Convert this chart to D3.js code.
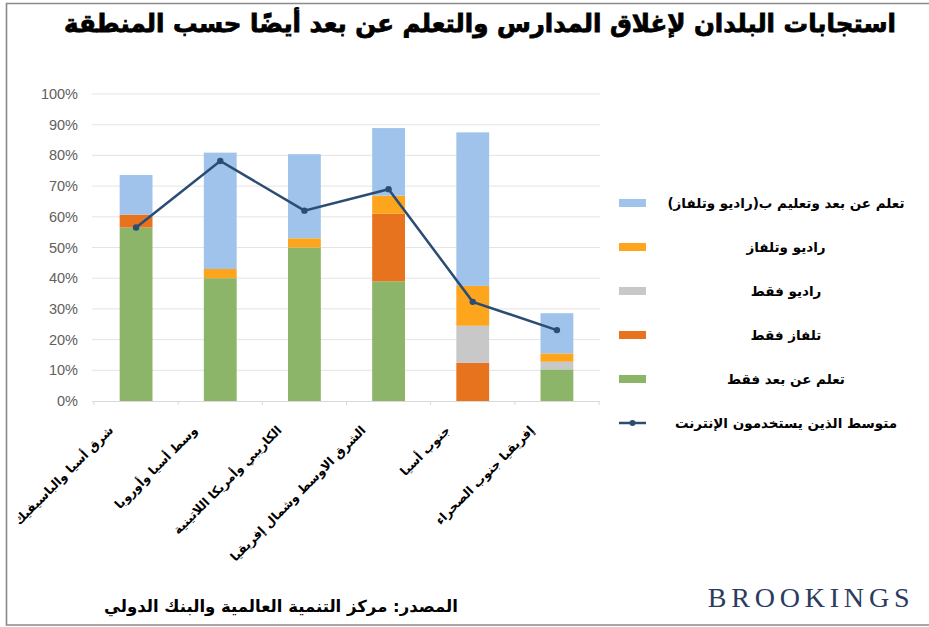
<!DOCTYPE html>
<html>
<head>
<meta charset="utf-8">
<script src="https://cdn.jsdelivr.net/npm/d3@7"></script>
<style>
  body { margin: 0; background: #fff; }
  svg { display: block; }
  .ar { font-family: "DejaVu Sans", sans-serif; font-weight: bold; direction: rtl; unicode-bidi: embed; }
</style>
</head>
<body>
<svg id="chart" width="929" height="627"></svg>
<script>
// regions, as on the x axis
const regions = [
    "شرق أسيا والباسيفيك",
    "وسط أسيا وأوروبا",
    "الكاريبي وأمريكا اللاتينية",
    "الشرق الاوسط وشمال إفريقيا",
    "جنوب أسيا",
    "إفريقيا جنوب الصحراء",
];

// stacked series, bottom to top (percent)
const remoteOnly = [56.5, 40, 50, 39, 0, 10.3];
const tvOnly = [4.2, 0, 0, 22, 12.4, 0];
const radioOnly = [0, 0, 0, 0, 12.1, 2.5];
const radioTv = [0, 3, 3, 5.9, 13, 2.7];
const remoteAndRadioTv = [12.9, 37.9, 27.4, 22, 50, 13.1];

// line series (percent)
const internetUsers = [56.5, 78.2, 62, 69, 32.3, 23.1];

const yTicks = [0, 10, 20, 30, 40, 50, 60, 70, 80, 90, 100];

const seriesNames = [
    "تعلم عن بعد فقط",
    "تلفاز فقط",
    "راديو فقط",
    "راديو وتلفاز",
    "تعلم عن بعد وتعليم ب(راديو وتلفاز)",
];
const lineName = "متوسط الذين يستخدمون الإنترنت";
const colors = ["#8cb569", "#e8731f", "#c8c8c8", "#fda51c", "#9fc3ea"];
const lineColor = "#2c4d73";

const title = "استجابات البلدان لإغلاق المدارس والتعلم عن بعد أيضًا حسب المنطقة";
const source = "المصدر: مركز التنمية العالمية والبنك الدولي";

const svg = d3.select("#chart");

// frame
svg.append("path")
    .attr("d", "M929,3.5 H6.5 V625 H929")
    .attr("fill", "none")
    .attr("stroke", "#8a8a8a")
    .attr("stroke-width", 1.6);

svg.append("text")
    .attr("class", "ar")
    .attr("x", 480)
    .attr("y", 32)
    .attr("text-anchor", "middle")
    .attr("font-size", 24.5)
    .attr("stroke", "#000")
    .attr("stroke-width", 0.8)
    .attr("fill", "#000")
    .text(title);

const x = d3.scaleBand()
    .domain(regions)
    .range([94, 599])
    .paddingInner(0.61)
    .paddingOuter(0.305);

const y = d3.scaleLinear().domain([0, 100]).range([401, 94]);

// gridlines
svg.append("g")
    .selectAll("line")
    .data(yTicks.slice(1))
    .join("line")
    .attr("x1", 92)
    .attr("x2", 600)
    .attr("y1", (d) => y(d))
    .attr("y2", (d) => y(d))
    .attr("stroke", "#e4e4e4")
    .attr("stroke-width", 1);

// y axis labels
svg.append("g")
    .selectAll("text")
    .data(yTicks)
    .join("text")
    .attr("x", 78)
    .attr("y", (d) => y(d) + 5)
    .attr("text-anchor", "end")
    .attr("font-family", "Liberation Sans, Arial, sans-serif")
    .attr("font-size", 14.5)
    .attr("fill", "#606060")
    .text((d) => d + "%");

// x axis
const xAxis = svg.append("g")
    .attr("transform", `translate(0,${y(0)})`)
    .call(d3.axisBottom(x).tickSize(0).tickFormat(""));
xAxis.select(".domain").attr("stroke", "#d9d9d9").attr("d", "M92,0.5H600");
const step = x.step();
const x0 = x(regions[0]) - (step - x.bandwidth()) / 2;
xAxis.append("g")
    .selectAll("line")
    .data(d3.range(regions.length + 1))
    .join("line")
    .attr("x1", (i) => x0 + i * step)
    .attr("x2", (i) => x0 + i * step)
    .attr("y1", 0)
    .attr("y2", 4)
    .attr("stroke", "#d9d9d9");

// stacked bars
const rows = regions.map((r, i) => ({
    region: r,
    s0: remoteOnly[i],
    s1: tvOnly[i],
    s2: radioOnly[i],
    s3: radioTv[i],
    s4: remoteAndRadioTv[i],
}));
const stack = d3.stack().keys(["s0", "s1", "s2", "s3", "s4"])(rows);

svg.append("g")
    .selectAll("g")
    .data(stack)
    .join("g")
    .attr("fill", (d, i) => colors[i])
    .selectAll("rect")
    .data((d) => d)
    .join("rect")
    .attr("x", (d) => x(d.data.region))
    .attr("width", x.bandwidth())
    .attr("y", (d) => y(d[1]))
    .attr("height", (d) => y(d[0]) - y(d[1]));

// internet users line
const cx = (r) => x(r) + x.bandwidth() / 2;
const line = d3.line()
    .x((d, i) => cx(regions[i]))
    .y((d) => y(d));

svg.append("path")
    .datum(internetUsers)
    .attr("d", line)
    .attr("fill", "none")
    .attr("stroke", lineColor)
    .attr("stroke-width", 2.5);

svg.append("g")
    .selectAll("circle")
    .data(internetUsers)
    .join("circle")
    .attr("cx", (d, i) => cx(regions[i]))
    .attr("cy", (d) => y(d))
    .attr("r", 3.2)
    .attr("fill", lineColor);

// x labels, rotated
svg.append("g")
    .selectAll("text")
    .data(regions)
    .join("text")
    .attr("class", "ar")
    .attr("font-size", 12.3)
    .attr("text-anchor", "start")
    .attr("transform", (d) => `translate(${cx(d) - 22},${y(0) + 30}) rotate(-45)`)
    .text((d) => d);

// legend
const legendItems = seriesNames.map((name, i) => ({ name, color: colors[i] })).reverse();
const legend = svg.append("g");
const ly = (i) => 203 + i * 44;

legend.selectAll("rect")
    .data(legendItems)
    .join("rect")
    .attr("x", 619)
    .attr("y", (d, i) => ly(i) - 4)
    .attr("width", 27)
    .attr("height", 8)
    .attr("fill", (d) => d.color);

legend.selectAll("text")
    .data([...legendItems.map((d) => d.name), lineName])
    .join("text")
    .attr("class", "ar")
    .attr("x", 786)
    .attr("y", (d, i) => ly(i) + 5)
    .attr("text-anchor", "middle")
    .attr("font-size", 13.5)
    .text((d) => d);

const lyLine = ly(legendItems.length);
legend.append("line")
    .attr("x1", 619)
    .attr("x2", 646)
    .attr("y1", lyLine)
    .attr("y2", lyLine)
    .attr("stroke", lineColor)
    .attr("stroke-width", 2.5);
legend.append("circle")
    .attr("cx", 632.5)
    .attr("cy", lyLine)
    .attr("r", 3)
    .attr("fill", lineColor);

// footer
svg.append("text")
    .attr("class", "ar")
    .attr("x", 281)
    .attr("y", 612)
    .attr("text-anchor", "middle")
    .attr("font-size", 16.5)
    .text(source);

svg.append("text")
    .attr("x", 811)
    .attr("y", 607)
    .attr("text-anchor", "middle")
    .attr("font-family", "Liberation Serif, Times New Roman, serif")
    .attr("font-size", 28)
    .attr("letter-spacing", 4.8)
    .attr("fill", "#2b3b5e")
    .text("BROOKINGS");
</script>
</body>
</html>
